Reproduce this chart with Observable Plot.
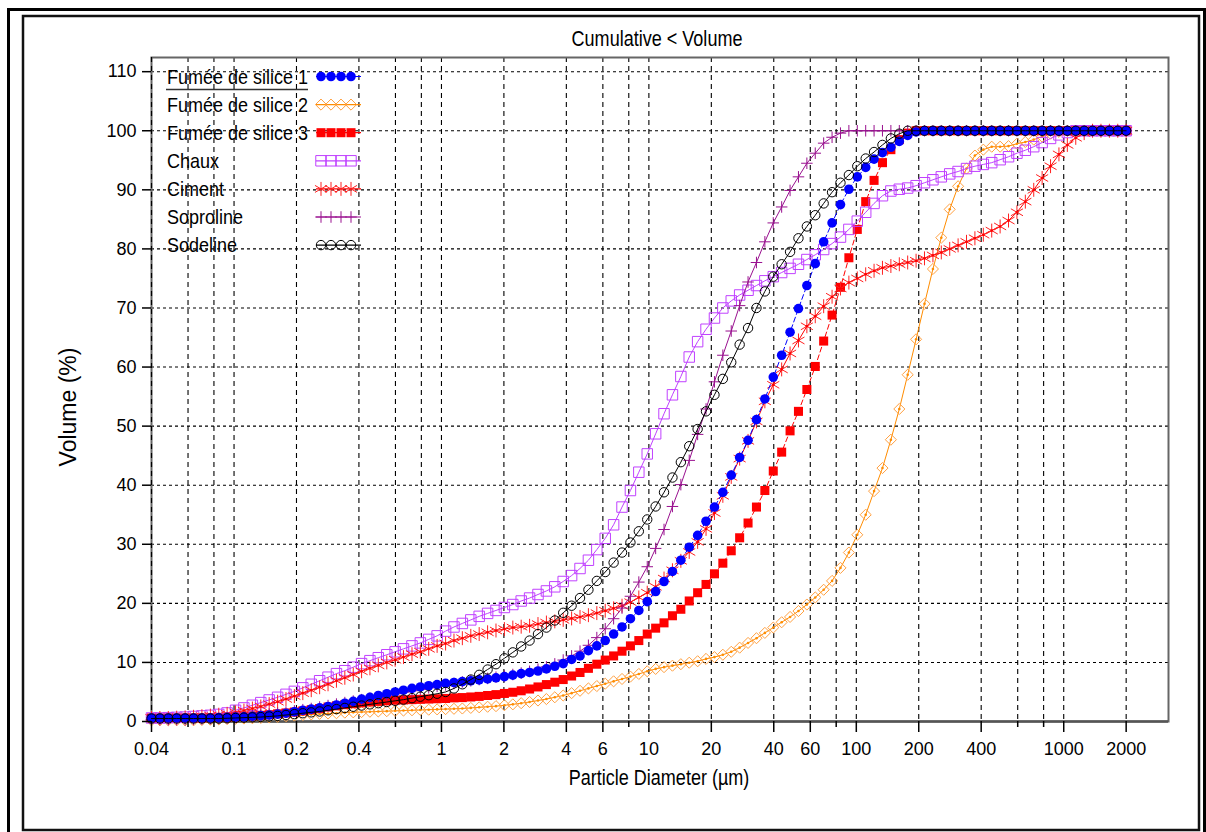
<!DOCTYPE html>
<html>
<head>
<meta charset="utf-8">
<script src="https://cdn.jsdelivr.net/npm/d3@7"></script>
<script src="https://cdn.jsdelivr.net/npm/@observablehq/plot@0.6"></script>
<style>
  body { margin: 0; background: #fff; }
  #wrap { position: relative; width: 1206px; height: 832px; overflow: hidden; background: #fff; }
  #wrap > svg { position: absolute; left: 0; top: 0; }
</style>
</head>
<body>
<div id="wrap"></div>
<script>
// ---------- data ----------
const sizes = [0.040,0.0439,0.0482,0.0529,0.0581,0.0638,0.0700,0.0769,0.0844,0.0926,
0.1017,0.1116,0.1226,0.1346,0.1477,0.1622,0.1780,0.1954,0.2146,0.2356,
0.2586,0.2839,0.3117,0.3421,0.3756,0.412,0.452,0.496,0.545,0.598,
0.656,0.721,0.791,0.868,0.953,1.047,1.149,1.261,1.385,1.520,
1.669,1.832,2.011,2.208,2.423,2.660,2.920,3.206,3.519,3.863,
4.241,4.656,5.111,5.611,6.159,6.761,7.422,8.148,8.944,9.819,
10.78,11.83,12.99,14.26,15.65,17.18,18.86,20.71,22.73,24.95,
27.39,30.07,33.01,36.24,39.78,43.67,47.94,52.62,57.77,63.41,
69.61,76.42,83.89,92.09,101.1,111.0,121.8,133.7,146.8,161.2,
176.9,194.2,213.2,234.1,256.9,282.1,309.6,339.9,373.1,409.6,
449.7,493.6,541.9,594.9,653.0,716.9,786.9,863.9,948.3,1041,
1143,1255,1377,1512,1660,1822,2000];

const fumee1 = [0.6,0.6,0.6,0.6,0.6,0.6,0.6,0.6,0.65,0.7,
0.75,0.8,0.9,1.0,1.1,1.25,1.4,1.65,1.9,2.1,
2.3,2.55,2.8,3.1,3.4,3.8,4.1,4.4,4.7,5.0,
5.3,5.6,5.85,6.05,6.25,6.45,6.6,6.75,6.9,7.05,
7.2,7.4,7.6,7.85,8.1,8.3,8.55,8.9,9.35,9.8,
10.5,11.1,12.0,12.8,13.7,14.8,16.0,17.4,18.8,20.3,
22.0,23.7,25.4,27.3,29.5,31.5,33.9,36.3,38.8,41.7,
44.7,47.6,51.1,54.6,58.3,62.0,65.9,69.9,73.8,77.5,
81.2,84.4,87.5,90.1,92.2,93.8,95.2,96.3,97.2,98.2,
99.2,99.8,100,100,100,100,100,100,100,100,
100,100,100,100,100,100,100,100,100,100,
100,100,100,100,100,100,100];

const fumee2 = [0.2,0.2,0.2,0.2,0.2,0.2,0.25,0.3,0.35,0.4,
0.45,0.5,0.55,0.6,0.7,0.8,0.9,1.0,1.1,1.2,
1.3,1.35,1.4,1.5,1.55,1.6,1.65,1.7,1.75,1.8,
1.85,1.9,1.95,2.0,2.05,2.1,2.15,2.2,2.3,2.4,
2.5,2.6,2.75,2.9,3.1,3.3,3.55,3.8,4.1,4.4,
4.8,5.2,5.6,6.0,6.4,6.8,7.2,7.6,8.05,8.5,
8.9,9.2,9.45,9.7,9.95,10.2,10.6,10.9,11.3,11.8,
12.5,13.3,14.1,15.0,15.9,16.8,17.7,18.7,19.8,21.0,
22.3,23.8,26.0,28.6,31.6,35.0,39.0,42.9,47.7,52.9,
58.7,64.7,70.7,76.6,81.9,86.7,90.6,93.6,95.8,96.8,
97.3,97.3,97.4,97.8,98.1,98.5,99.0,99.5,99.8,100,
100,100,100,100,100,100,100];

const fumee3 = [0.6,0.6,0.6,0.6,0.6,0.6,0.6,0.65,0.7,0.75,
0.8,0.85,0.95,1.05,1.15,1.3,1.45,1.6,1.8,2.0,
2.2,2.45,2.65,2.85,3.0,3.15,3.3,3.4,3.5,3.6,
3.65,3.7,3.75,3.8,3.85,3.9,4.0,4.05,4.15,4.25,
4.4,4.55,4.75,4.95,5.2,5.5,5.85,6.25,6.65,7.1,
7.7,8.3,9.0,9.7,10.4,11.1,11.9,12.8,13.7,14.8,
15.8,16.7,17.9,19.0,20.4,21.8,23.2,25.0,26.8,28.9,
31.1,33.6,36.3,39.1,42.4,45.6,49.2,52.5,56.2,60.1,
64.4,68.8,73.5,78.5,83.3,88.0,91.6,94.6,96.8,98.5,
99.6,100,100,100,100,100,100,100,100,100,
100,100,100,100,100,100,100,100,100,100,
100,100,100,100,100,100,100];

const chaux = [0.6,0.6,0.65,0.7,0.75,0.85,0.95,1.05,1.2,1.45,
1.9,2.3,2.75,3.2,3.65,4.1,4.6,5.1,5.7,6.3,
6.9,7.5,8.1,8.6,9.2,9.8,10.3,10.8,11.3,11.8,
12.3,12.8,13.3,13.9,14.5,15.3,16.0,16.6,17.2,17.8,
18.3,18.8,19.3,19.8,20.4,20.9,21.5,22.1,22.8,23.7,
24.7,25.9,27.3,29.1,31.0,33.3,36.3,39.1,42.2,45.3,
48.7,52.1,55.3,58.4,61.7,64.3,66.4,68.3,70.0,71.2,
72.2,73.0,73.8,74.6,75.3,76.0,76.7,77.4,78.2,79.0,
79.9,80.9,82.0,83.3,84.7,86.2,87.7,89.0,89.8,90.1,
90.3,90.7,91.2,91.7,92.2,92.7,93.1,93.6,94.0,94.3,
94.6,95.1,95.6,96.2,96.7,97.3,98.0,98.7,99.3,99.7,
100,100,100,100,100,100,100];

const ciment = [0.6,0.6,0.6,0.65,0.7,0.8,0.9,1.0,1.15,1.3,
1.55,1.85,2.2,2.55,2.95,3.35,3.8,4.3,4.8,5.3,
5.8,6.3,6.9,7.4,7.95,8.5,9.0,9.5,10.0,10.45,
10.9,11.4,11.8,12.3,12.8,13.2,13.7,14.1,14.5,14.8,
15.1,15.4,15.65,15.9,16.05,16.2,16.5,16.75,16.95,17.2,
17.45,17.7,18.0,18.35,18.75,19.15,19.6,20.2,21.0,21.8,
22.8,24.2,25.6,27.2,28.7,30.4,32.6,35.3,38.2,41.4,
44.5,47.5,50.8,54.2,57.0,59.6,62.3,64.5,66.9,68.6,
70.3,71.9,73.3,74.3,75.0,75.7,76.3,76.8,77.1,77.4,
77.7,78.0,78.4,78.9,79.4,80.0,80.6,81.2,81.8,82.4,
83.1,83.8,84.8,86.2,88.0,90.0,92.0,94.0,96.0,97.6,
98.8,99.6,100,100,100,100,100];

const soproline = [0.3,0.3,0.3,0.3,0.3,0.35,0.4,0.45,0.5,0.6,
0.7,0.8,0.95,1.1,1.25,1.4,1.6,1.8,2.0,2.2,
2.45,2.7,2.95,3.2,3.45,3.7,3.95,4.2,4.45,4.7,
4.95,5.2,5.45,5.7,5.95,6.2,6.45,6.7,6.9,7.1,
7.3,7.5,7.7,7.95,8.2,8.5,8.85,9.25,9.75,10.4,
11.1,11.9,12.9,14.2,15.7,17.4,19.2,21.2,23.6,26.2,
29.3,32.5,36.4,40.1,44.2,48.6,52.9,57.5,62.0,66.1,
70.4,74.4,77.7,81.2,84.4,87.1,89.9,92.2,94.5,96.2,
97.9,98.9,99.6,100,100,100,100,100,100,100,
100,100,100,100,100,100,100,100,100,100,
100,100,100,100,100,100,100,100,100,100,
100,100,100,100,100,100,100];

const sodeline = [0.5,0.5,0.5,0.5,0.5,0.5,0.5,0.5,0.5,0.55,
0.6,0.65,0.7,0.75,0.85,0.95,1.1,1.25,1.4,1.55,
1.7,1.9,2.1,2.3,2.5,2.7,2.9,3.1,3.3,3.5,
3.7,3.95,4.2,4.45,4.7,5.0,5.6,6.3,7.1,7.9,
8.8,9.7,10.7,11.7,12.7,13.7,14.8,15.9,17.1,18.4,
19.6,20.9,22.3,23.8,25.3,26.9,28.6,30.3,32.2,34.2,
36.4,38.8,41.3,43.9,46.6,49.5,52.5,55.3,58.0,60.8,
63.8,66.6,70.0,72.8,75.3,77.4,79.5,81.8,83.8,85.7,
87.7,89.6,91.2,92.5,94.0,95.3,96.4,97.6,98.7,99.5,
100,100,100,100,100,100,100,100,100,100,
100,100,100,100,100,100,100,100,100,100,
100,100,100,100,100,100,100];

const seriesNames = ["Fumée de silice 1","Fumée de silice 2","Fumée de silice 3","Chaux","Ciment","Soproline","Sodeline"];
const seriesValues = [fumee1, fumee2, fumee3, chaux, ciment, soproline, sodeline];

const yTicks = [0,10,20,30,40,50,60,70,80,90,100,110];
const yGridValues = [10,20,30,40,50,60,70,80,90,100,110];
const xTicks = [0.04,0.1,0.2,0.4,1,2,4,6,10,20,40,60,100,200,400,1000,2000];
const xTickLabels = ["0.04","0.1","0.2","0.4","1","2","4","6","10","20","40","60","100","200","400","1000","2000"];
const xMinorTicks = [0.06,0.08,0.6,0.8,8,80,600,800];
const xGridValues = [0.06,0.08,0.1,0.2,0.4,0.6,0.8,1,2,4,6,8,10,20,40,60,80,100,200,400,600,800,1000,2000];

const titleText = "Cumulative < Volume";
const xLabelText = "Particle Diameter (µm)";
const yLabelText = "Volume (%)";

// ---------- styles ----------
const styleOf = [
  {symbol: "circle",   r: 4.8, fill: "#0000ff", stroke: "none", line: "#0000ff", dash: "5,3"},
  {symbol: "diamond2", r: 5.0, fill: "none", stroke: "#ffa040", line: "#ff8c00", dash: null, centerDot: true},
  {symbol: "square",   r: 5.1, fill: "#ff0000", stroke: "none", line: "#ff0000", dash: "5,3"},
  {symbol: "square",   r: 5.9, fill: "none", stroke: "#c040ff", line: "#c040ff", dash: null},
  {symbol: "asterisk", r: 6.6, fill: "none", stroke: "#ff2020", line: "#ff0000", dash: null, centerDot: true},
  {symbol: "plus",     r: 3.8, fill: "none", stroke: "#99108f", line: "#99108f", dash: null},
  {symbol: "circle",   r: 4.7, fill: "none", stroke: "#000000", line: "#000000", dash: null}
];
const drawOrder = [1, 2, 3, 4, 5, 0, 6];

const FONT = '"Liberation Sans", Arial, sans-serif';

const rows = seriesValues.map(vals => sizes.map((d, i) => ({size: d, value: vals[i]})));
const xLabelRows = xTicks.map((t, i) => ({t, label: xTickLabels[i]}));

const marks = [];
marks.push(Plot.gridY(yGridValues, {stroke: "#000", strokeOpacity: 1, strokeWidth: 1.1, strokeDasharray: "3,3"}));
marks.push(Plot.gridX(xGridValues, {stroke: "#000", strokeOpacity: 1, strokeWidth: 1.1, strokeDasharray: "5,4"}));
marks.push(Plot.frame({stroke: "#666", strokeWidth: 2}));
marks.push(Plot.ruleX([0.04], {stroke: "#000", strokeWidth: 1.2, strokeDasharray: "5,4"}));
marks.push(Plot.ruleY([0], {stroke: "#555", strokeWidth: 2.5}));

for (const s of drawOrder) {
  const st = styleOf[s];
  marks.push(Plot.line(rows[s], {x: "size", y: "value", stroke: st.line, strokeWidth: 1, strokeDasharray: st.dash || undefined}));
  marks.push(Plot.dot(rows[s], {x: "size", y: "value", symbol: st.symbol, r: st.r, fill: st.fill, stroke: st.stroke, strokeWidth: 1}));
  if (st.centerDot) marks.push(Plot.dot(rows[s], {x: "size", y: "value", r: 1.3, fill: st.line, stroke: "none"}));
}

marks.push(Plot.axisY(yTicks, {tickSize: 9, tickPadding: 6, fontSize: 18, label: null, strokeWidth: 1.5}));
marks.push(Plot.axisX(xTicks, {tickFormat: () => "", tickSize: 11, label: null, strokeWidth: 1.5}));
marks.push(Plot.axisX(xMinorTicks, {tickFormat: () => "", tickSize: 6, label: null, strokeWidth: 1.5}));
// x tick labels (the log axis would otherwise hide labels such as 0.04, 4, 6, 40, 60, 400)
marks.push(Plot.text(xLabelRows, {x: "t", text: "label", frameAnchor: "bottom", lineAnchor: "top", dy: 21, fontSize: 18, fill: "#000"}));

const chart = Plot.plot({
  width: 1206,
  height: 832,
  marginLeft: 151,
  marginRight: 38,
  marginTop: 57,
  marginBottom: 111,
  x: {type: "log", domain: [0.04, 3200]},
  y: {domain: [0, 112.4]},
  style: {fontFamily: FONT, fontSize: "18px", color: "#000", background: "transparent"},
  marks
});

const wrap = document.getElementById("wrap");
wrap.appendChild(chart);

// ---------- overlay: frames, title, axis labels, legend ----------
const ov = d3.create("svg").attr("width", 1206).attr("height", 832)
  .style("pointer-events", "none").style("font-family", FONT);

ov.append("path").attr("d", "M8.5,840 V9.5 H1204.5 V840").attr("fill", "none").attr("stroke", "#000").attr("stroke-width", 3);
ov.append("rect").attr("x", 23).attr("y", 16).attr("width", 1176).attr("height", 814)
  .attr("fill", "none").attr("stroke", "#111").attr("stroke-width", 2.5);

function stext(x, y, str, size, sx, anchor) {
  ov.append("text").attr("transform", `translate(${x},${y}) scale(${sx},1)`)
    .attr("text-anchor", anchor).attr("font-size", size).attr("fill", "#000").text(str);
}
stext(657, 46, titleText, 22, 0.82, "middle");
stext(659, 785, xLabelText, 22, 0.82, "middle");
ov.append("text").attr("transform", "translate(76,407) rotate(-90)")
  .attr("text-anchor", "middle").attr("font-size", 23).attr("fill", "#000").text(yLabelText);

// legend
const symbolMap = {circle: d3.symbolCircle, diamond2: d3.symbolDiamond2, square: d3.symbolSquare,
                   asterisk: d3.symbolAsterisk, plus: d3.symbolPlus};
seriesNames.forEach((name, k) => {
  const st = styleOf[k];
  const cy = 76.5 + 28.1 * k;
  stext(167, cy + 7, name, 20, 0.9, "start");
  ov.append("line").attr("x1", 316).attr("x2", 361).attr("y1", cy).attr("y2", cy)
    .attr("stroke", st.line).attr("stroke-width", 1.2);
  const path = d3.symbol(symbolMap[st.symbol], Math.PI * st.r * st.r)();
  for (let j = 0; j < 4; j++) {
    ov.append("path").attr("d", path).attr("transform", `translate(${321 + 10 * j},${cy})`)
      .attr("fill", st.fill).attr("stroke", st.stroke === "none" ? "none" : st.stroke).attr("stroke-width", 1);
  }
});
ov.append("line").attr("x1", 166).attr("x2", 308).attr("y1", 89.5).attr("y2", 89.5)
  .attr("stroke", "#333").attr("stroke-width", 1.5);

wrap.appendChild(ov.node());
</script>
</body>
</html>
